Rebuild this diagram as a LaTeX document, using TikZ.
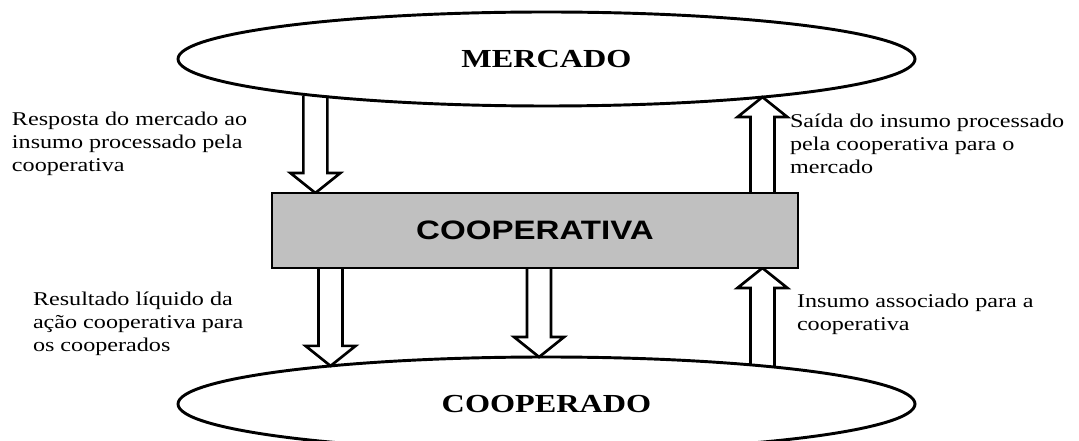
\documentclass[tikz,border=0pt]{standalone}
\usepackage{fontspec}
\setmainfont{Liberation Serif}
\newfontfamily\tnr[FakeStretch=1.24]{Liberation Serif}
\newfontfamily\arl[FakeStretch=1.24]{Liberation Sans}
\usetikzlibrary{shapes.geometric,backgrounds,calc}
\definecolor{boxgray}{HTML}{C0C0C0}
\tikzset{
  blk/.style={draw=black, fill=white, line width=2pt, line join=miter},
  oval/.style={draw=black, ellipse, line width=2.2pt, minimum width=552.75pt, minimum height=70.5pt, inner sep=0pt, outer sep=0pt, font=\tnr\bfseries\fontsize{19.5pt}{22pt}\selectfont},
  coopbox/.style={draw=black, fill=boxgray, line width=1.8pt, minimum width=394.5pt, minimum height=56.25pt, inner sep=0pt, outer sep=0pt, font=\arl\bfseries\fontsize{20pt}{24pt}\selectfont},
  lbl/.style={align=left, inner sep=0pt, outer sep=0pt, font=\tnr\fontsize{14.6pt}{17.25pt}\selectfont}
}
\newcommand\blkdown[2]{\filldraw[blk] let \p1=(#1), \p2=(#2) in
  (\x1-9pt,\y1) -- (\x1-9pt,\y2+15pt) -- (\x1-18.75pt,\y2+15pt) -- (\x1,\y2) -- (\x1+18.75pt,\y2+15pt) -- (\x1+9pt,\y2+15pt) -- (\x1+9pt,\y1);}
\newcommand\blkup[2]{\filldraw[blk] let \p1=(#1), \p2=(#2) in
  (\x1-9pt,\y1) -- (\x1-9pt,\y2-15pt) -- (\x1-18.75pt,\y2-15pt) -- (\x1,\y2) -- (\x1+18.75pt,\y2-15pt) -- (\x1+9pt,\y2-15pt) -- (\x1+9pt,\y1);}
\begin{document}
\begin{tikzpicture}[x=0.75pt, y=-0.75pt]
\useasboundingbox (0,0) rectangle (1079,441);
\node[oval] (mercado) at (546.5,59) {MERCADO};
\node[oval] (cooperado) at (546.5,404) {COOPERADO};
\node[coopbox] (box) at (535,230.5) {COOPERATIVA};
\begin{pgfonlayer}{background}
\fill[white] (0,0) rectangle (1079,441);
\blkdown{mercado.189.11}{box.north}
\blkup{box.north -| mercado.-10.67}{mercado.-10.67}
\blkdown{box.south -| cooperado.170.95}{cooperado.170.95}
\blkdown{box.south -| cooperado.99.07}{cooperado.99.07}
\blkup{cooperado.10.67}{box.south}
\end{pgfonlayer}
\node[lbl, anchor=north west] (t1) at (12,112) {Resposta do mercado ao\\insumo processado pela\\cooperativa};
\node[lbl, anchor=north west] (t2) at (790,114) {Saída do insumo processado\\pela cooperativa para o\\mercado};
\node[lbl, anchor=north west] (t3) at (33,292) {Resultado líquido da\\ação cooperativa para\\os cooperados};
\node[lbl, anchor=north west] (t4) at (797,294) {Insumo associado para a\\cooperativa};
\end{tikzpicture}
\end{document}
